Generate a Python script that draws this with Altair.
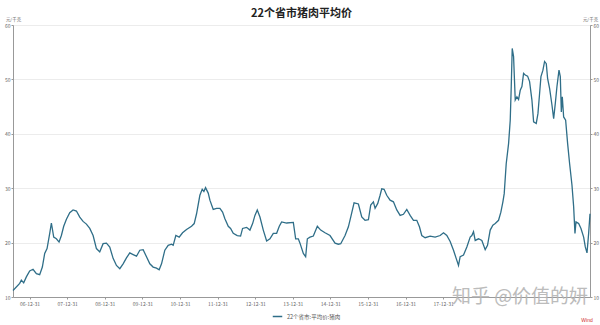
import altair as alt
import numpy as np
import pandas as pd

TITLE = "22个省市猪肉平均价"
SERIES = "22个省市:平均价:猪肉"
UNIT = "元/千克"

# positions as decimal years (2007.0 == 06-12-31)
YEARS = [
    2006.556, 2006.734, 2006.778, 2006.840, 2006.911, 2007.000, 2007.089, 2007.178, 2007.266, 2007.337,
    2007.399, 2007.462, 2007.533, 2007.577, 2007.639, 2007.710, 2007.781, 2007.843, 2007.905, 2007.977,
    2008.065, 2008.154, 2008.243, 2008.332, 2008.420, 2008.509, 2008.598, 2008.687, 2008.775, 2008.864,
    2008.953, 2009.042, 2009.130, 2009.219, 2009.308, 2009.397, 2009.485, 2009.574, 2009.663, 2009.752,
    2009.841, 2009.929, 2010.018, 2010.107, 2010.196, 2010.284, 2010.373, 2010.444, 2010.507, 2010.595,
    2010.684, 2010.773, 2010.817, 2010.888, 2010.977, 2011.066, 2011.172, 2011.305, 2011.376, 2011.439,
    2011.527, 2011.589, 2011.634, 2011.678, 2011.749, 2011.794, 2011.882, 2011.971, 2012.060, 2012.131,
    2012.193, 2012.282, 2012.344, 2012.415, 2012.521, 2012.610, 2012.663, 2012.770, 2012.859, 2012.930,
    2012.992, 2013.054, 2013.125, 2013.214, 2013.303, 2013.391, 2013.480, 2013.569, 2013.640, 2013.702,
    2013.835, 2014.013, 2014.075, 2014.146, 2014.190,
    2014.279, 2014.341, 2014.386, 2014.457, 2014.545, 2014.652, 2014.741, 2014.856, 2014.989, 2015.123,
    2015.211, 2015.274, 2015.389, 2015.478, 2015.540, 2015.629, 2015.744, 2015.833, 2015.921, 2016.010,
    2016.072, 2016.143, 2016.188, 2016.259, 2016.321, 2016.365, 2016.427, 2016.498, 2016.587, 2016.676,
    2016.765, 2016.854, 2016.942, 2017.031, 2017.120, 2017.209, 2017.297, 2017.368, 2017.430, 2017.519,
    2017.652, 2017.786, 2017.919, 2018.008, 2018.096,
    2018.185, 2018.274, 2018.345, 2018.407, 2018.451, 2018.540, 2018.629, 2018.718, 2018.762, 2018.806,
    2018.851, 2018.940, 2019.028, 2019.117, 2019.179, 2019.250, 2019.321, 2019.384, 2019.472, 2019.534,
    2019.588, 2019.623, 2019.676, 2019.739, 2019.783, 2019.810, 2019.836, 2019.872, 2019.916, 2019.961,
    2020.005, 2020.049, 2020.094, 2020.138, 2020.183, 2020.245, 2020.298, 2020.360, 2020.405, 2020.475,
    2020.520, 2020.564, 2020.600, 2020.653, 2020.697, 2020.742, 2020.777, 2020.831, 2020.893, 2020.938,
    2020.982, 2021.026, 2021.080, 2021.115, 2021.142, 2021.168, 2021.204, 2021.257, 2021.310, 2021.363,
    2021.425, 2021.470, 2021.505, 2021.532, 2021.603, 2021.665, 2021.736, 2021.780, 2021.825, 2021.869,
    2021.905,
]

PRICES = [
    11.2, 12.5, 13.1, 12.6, 13.7, 14.8, 15.1, 14.3, 14.1, 15.5,
    18.0, 18.9, 21.7, 23.6, 21.0, 20.7, 20.1, 21.3, 23.0, 24.3,
    25.5, 26.0, 25.8, 24.7, 23.9, 23.4, 22.6, 21.3, 18.9, 18.3,
    19.8, 19.9, 19.2, 17.1, 15.8, 15.2, 16.1, 17.2, 18.1, 17.8,
    17.5, 18.6, 18.7, 17.4, 16.1, 15.5, 15.3, 15.0, 16.1, 18.6,
    19.5, 19.7, 19.5, 21.3, 21.0, 21.8, 22.4, 23.0, 23.5, 25.3,
    28.7, 29.8, 29.4, 30.1, 29.1, 27.8, 26.1, 26.3, 26.3, 25.6,
    24.4, 23.0, 22.6, 21.7, 21.3, 21.2, 22.6, 22.8, 22.3, 23.5,
    25.0, 26.0, 24.7, 22.3, 20.3, 20.7, 21.7, 21.7, 23.0, 23.8,
    23.6, 23.7, 20.7, 20.7, 19.9,
    18.0, 17.4, 20.7, 21.0, 21.2, 23.0, 22.3, 21.8, 21.3, 19.9,
    19.7, 19.8, 21.3, 22.9, 24.7, 27.3, 27.1, 24.7, 24.1, 24.2,
    26.9, 27.5, 26.3, 27.2, 28.7, 29.9, 29.8, 28.7, 27.8, 27.5,
    26.0, 25.0, 25.2, 26.1, 25.0, 24.1, 24.1, 22.9, 21.3, 20.9,
    21.2, 21.0, 21.3, 21.8, 21.3,
    20.2, 18.6, 17.1, 15.8, 17.4, 17.7, 19.2, 21.0, 21.3, 22.0,
    20.4, 20.7, 20.4, 18.7, 19.5, 22.3, 23.2, 23.5, 24.1, 25.6,
    27.5, 29.0, 34.5, 38.2, 42.5, 48.7, 55.7, 54.2, 46.2, 46.8,
    46.3, 48.0, 48.7, 51.1, 50.8, 50.6, 49.6, 46.2, 42.2, 41.9,
    43.7, 47.4, 50.5, 51.7, 53.3, 52.9, 50.2, 48.3, 45.3, 42.8,
    45.6, 48.7, 51.7, 50.5, 44.0, 46.8, 43.1, 42.5, 38.2, 34.5,
    30.6, 26.6, 21.7, 23.8, 23.5, 22.6, 21.0, 19.2, 18.1, 21.7,
    25.3,
]

TICK_DATES = ["2006-12-31", "2007-12-31", "2008-12-31", "2009-12-31", "2010-12-31", "2011-12-31",
              "2012-12-31", "2013-12-31", "2014-12-31", "2015-12-31", "2016-12-31", "2017-12-31"]
Y_TICKS = [10, 20, 30, 40, 50, 60]

LINE_COLOR = "#2f6e88"
FONT = "Noto Sans CJK SC"

yrs = np.array(YEARS)
dates = pd.Timestamp("2007-01-01") + pd.to_timedelta((yrs - 2007.0) * 365.25, unit="D")
df = pd.DataFrame({"date": dates.round("h"), "price": PRICES, "series": SERIES})

tick_vals = []
for s in TICK_DATES:
    t = pd.Timestamp(s)
    tick_vals.append(alt.DateTime(year=t.year, month=t.month, date=t.day))

x_enc = alt.X(
    "date:T",
    scale=alt.Scale(nice=False),
    axis=alt.Axis(values=tick_vals, format="%y-%m-%d", title=None, labelFontSize=5,
                  labelColor="#666", labelFont=FONT, labelPadding=2, tickSize=2,
                  tickColor="#999", domainColor="#999", grid=False, labelFlush=False,
                  labelOverlap=False),
)

common_axis = dict(values=Y_TICKS, title=UNIT, titleAngle=0, titleX=0, titleY=-6,
                   titleAlign="center", titleBaseline="middle", titleFontSize=4.5,
                   titleColor="#666", titleFontWeight="normal", titleFont=FONT,
                   labelFontSize=5, labelColor="#666", labelFont=FONT, labelPadding=1,
                   tickSize=2, tickColor="#999", domainColor="#999")

y_scale = alt.Scale(domain=[10, 60], nice=False, zero=False)

line = alt.Chart(df).mark_line(strokeWidth=1.3, interpolate="linear").encode(
    x=x_enc,
    y=alt.Y("price:Q", scale=y_scale,
            axis=alt.Axis(orient="left", grid=True, gridColor="#ececec", **common_axis)),
    color=alt.Color("series:N", scale=alt.Scale(range=[LINE_COLOR]),
                    legend=alt.Legend(orient="none", legendX=259, legendY=286, title=None,
                                      symbolType="stroke", symbolStrokeWidth=1.5,
                                      symbolSize=90, labelFontSize=5.5, labelColor="#555",
                                      labelFont=FONT, padding=0, direction="horizontal")),
)

right = alt.Chart(df).mark_line(opacity=0).encode(
    x=x_enc,
    y=alt.Y("price:Q", scale=y_scale,
            axis=alt.Axis(orient="right", grid=False, **common_axis)),
)

ann = pd.DataFrame({"t": ["知乎 @价值的妍"]})
watermark = alt.Chart(ann).mark_text(fontSize=19, font=FONT, color="#b5b5b5", align="center",
                                     baseline="middle", opacity=0.9).encode(
    x=alt.value(507), y=alt.value(272), text="t:N")

wind = alt.Chart(pd.DataFrame({"t": ["Wind"]})).mark_text(
    fontSize=5, font="Liberation Sans", color="#d03030", align="center",
    baseline="middle").encode(x=alt.value(574), y=alt.value(295), text="t:N")

chart = alt.layer(line, right, watermark, wind).resolve_scale(y="independent").properties(
    width=577,
    height=272,
    title=alt.Title(TITLE, fontSize=11, fontWeight="bold", font=FONT, anchor="middle",
                    color="#222", offset=-3),
    autosize=alt.AutoSizeParams(type="none"),
    padding={"left": 13, "top": 25, "right": 10, "bottom": 28},
).configure_view(stroke=None).configure(background="white")

chart.save("out.html", embed_options={"renderer": "svg", "actions": False})
